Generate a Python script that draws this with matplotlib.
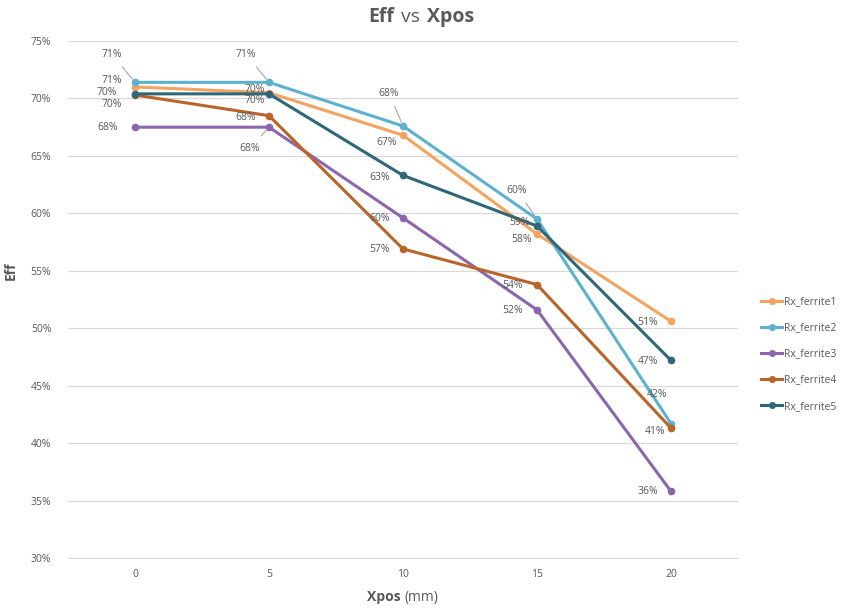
import matplotlib
matplotlib.use("Agg")
import matplotlib.pyplot as plt
from matplotlib.ticker import PercentFormatter
from matplotlib.offsetbox import TextArea, HPacker, AnchoredOffsetbox

plt.rcParams['font.family'] = ['Open Sans', 'DejaVu Sans']

# datos
xpos = ['0', '5', '10', '15', '20']
series = ['Rx_ferrite1', 'Rx_ferrite2', 'Rx_ferrite3', 'Rx_ferrite4', 'Rx_ferrite5']
ferrite1 = [0.710, 0.705, 0.668, 0.582, 0.506]
ferrite2 = [0.714, 0.714, 0.676, 0.595, 0.417]
ferrite3 = [0.675, 0.675, 0.596, 0.516, 0.358]
ferrite4 = [0.703, 0.685, 0.569, 0.538, 0.413]
ferrite5 = [0.704, 0.704, 0.633, 0.589, 0.472]
valores = [ferrite1, ferrite2, ferrite3, ferrite4, ferrite5]

colores = ['#F2A460', '#5CB1CF', '#8B66AE', '#B9652A', '#2F6778']

# desplazamiento de las etiquetas (pixeles, imagen) y si llevan linea guia
offsets = [
    [(-23, -6, 0), (-14, -3, 0), (-16, 7, 0), (-15, 5, 0), (-23, 1, 0)],
    [(-23, -28, 1), (-23, -28, 1), (-14, -33, 1), (-20, -29, 1), (-14, -29, 0)],
    [(-27, 0, 0), (-19, 21, 1), (-23, 1, 0), (-24, 1, 0), (-23, 0, 0)],
    [(-23, 10, 0), (-23, 2, 0), (-23, 1, 0), (-24, 1, 0), (-16, 3, 0)],
    [(-28, -1, 0), (-14, 7, 0), (-23, 2, 0), (-17, -3, 0), (-23, 1, 0)],
]

gris = '#595959'
fig = plt.figure(figsize=(8.59, 6.08), dpi=100)
ax = fig.add_axes([68 / 859, 1 - 558 / 608, 670 / 859, 517 / 608])

idx = list(range(len(xpos)))
for nombre, vals, col, offs in zip(series, valores, colores, offsets):
    ax.plot(idx, vals, color=col, linewidth=2.2, marker='o', markersize=4.5,
            label=nombre, zorder=3)
    for i, v in enumerate(vals):
        dx, dy, guia = offs[i]
        props = None
        if guia:
            props = dict(arrowstyle='-', color='#A6A6A6', linewidth=0.8,
                         shrinkA=4, shrinkB=3)
        ax.annotate(f'{round(v * 100):.0f}%', (i, v), xytext=(dx, -dy),
                    textcoords='offset pixels', ha='center', va='center',
                    fontsize=7.5, color=gris, arrowprops=props, zorder=4)

ax.set_xlim(-0.5, 4.5)
ax.set_ylim(0.30, 0.75)
ax.set_yticks([0.30 + 0.05 * k for k in range(10)])
ax.yaxis.set_major_formatter(PercentFormatter(1.0, decimals=0))
ax.set_xticks(idx)
ax.set_xticklabels(xpos)
ax.grid(axis='y', color='#D9D9D9', linewidth=0.9)
ax.set_axisbelow(True)
for s in ['top', 'right', 'left']:
    ax.spines[s].set_visible(False)
ax.spines['bottom'].set_color('#D9D9D9')
ax.tick_params(length=0, colors=gris, labelsize=7.5, pad=8)
ax.tick_params(axis='y', pad=12)

# titulo con partes en negrita
titulo = HPacker(children=[
    TextArea('Eff', textprops=dict(fontsize=14, fontweight='bold', color=gris)),
    TextArea('vs', textprops=dict(fontsize=14, color=gris)),
    TextArea('Xpos', textprops=dict(fontsize=14, fontweight='bold', color=gris)),
], align='baseline', pad=0, sep=5)
fig.add_artist(AnchoredOffsetbox(loc='center', child=titulo, frameon=False,
                                 bbox_to_anchor=(421 / 859, 1 - 17 / 608),
                                 bbox_transform=fig.transFigure, pad=0, borderpad=0))

etiqueta_x = HPacker(children=[
    TextArea('Xpos', textprops=dict(fontsize=10, fontweight='bold', color=gris)),
    TextArea('(mm)', textprops=dict(fontsize=10, color=gris)),
], align='baseline', pad=0, sep=3)
fig.add_artist(AnchoredOffsetbox(loc='center', child=etiqueta_x, frameon=False,
                                 bbox_to_anchor=(403 / 859, 1 - 598 / 608),
                                 bbox_transform=fig.transFigure, pad=0, borderpad=0))

fig.text(11 / 859, 1 - 271 / 608, 'Eff', rotation=90, fontsize=10, fontweight='bold',
         color=gris, ha='center', va='center')

ax.legend(loc='center left', bbox_to_anchor=(752 / 859, 1 - 354 / 608),
          bbox_transform=fig.transFigure, frameon=False, fontsize=7.5,
          labelcolor=gris, handlelength=2.0, handletextpad=0.2, labelspacing=1.45,
          markerscale=0.9)

fig.savefig('out.png', dpi=100)
